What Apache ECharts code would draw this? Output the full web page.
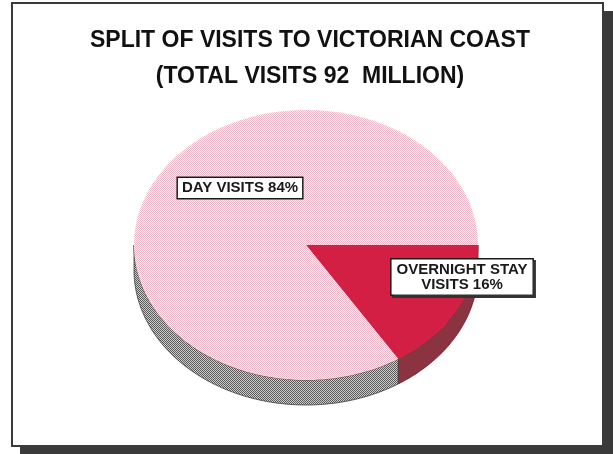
<!DOCTYPE html>
<html>
<head>
<meta charset="utf-8">
<script src="https://cdn.jsdelivr.net/npm/echarts@6/dist/echarts.min.js"></script>
<style>
  html, body { margin: 0; padding: 0; background: #fff; }
  #chart { width: 613px; height: 454px; }
</style>
</head>
<body>
<div id="chart"></div>
<script>
// Chart text and values
const titleLines = ['SPLIT OF VISITS TO VICTORIAN COAST', '(TOTAL VISITS 92  MILLION)'];
const sliceNames = ['OVERNIGHT STAY VISITS', 'DAY VISITS'];
const sliceLabelLines = [['OVERNIGHT STAY', 'VISITS'], ['DAY VISITS']];
const sliceValues = [16, 84];

// Layout of the tilted pie (centre, radii, rim depth) and label anchors
const PIE = { cx: 306, cy: 245, rx: 172, ry: 135, depth: 25 };
const labelAnchors = [[462, 277], [240, 188]];
const FONT = "'Liberation Sans', Arial, Helvetica, sans-serif";

// Small 2x2 dither tiles
function checker(c1, c2) {
  const cv = document.createElement('canvas');
  cv.width = 2; cv.height = 2;
  const g = cv.getContext('2d');
  g.fillStyle = c1; g.fillRect(0, 0, 2, 2);
  g.fillStyle = c2; g.fillRect(0, 0, 1, 1); g.fillRect(1, 1, 1, 1);
  return { image: cv, repeat: 'repeat' };
}
const faceFill = ['#d21f43', checker('#fcf1f4', '#ecb6c6')];
const sideFill = ['#8c3342', checker('#cccccc', '#5a5a5a')];
const sideEdge = ['#5a1e28', '#3c3c3c'];

const total = sliceValues.reduce((a, b) => a + b, 0);
let acc = 0;
const sliceData = sliceValues.map((v, i) => {
  const start = acc; acc += v;
  return { name: sliceNames[i], value: [start, acc, v] };
});

function pt(theta, dy) {
  return [PIE.cx + PIE.rx * Math.cos(theta), PIE.cy + PIE.ry * Math.sin(theta) + dy];
}
function arcPoints(a0, a1, dy) {
  const n = Math.max(2, Math.ceil(Math.abs(a1 - a0) / (Math.PI / 180)));
  const pts = [];
  for (let k = 0; k <= n; k++) pts.push(pt(a0 + (a1 - a0) * k / n, dy));
  return pts;
}

function renderSlice(params, api) {
  const i = params.dataIndex;
  const a0 = api.value(0) / total * 2 * Math.PI;
  const a1 = api.value(1) / total * 2 * Math.PI;
  const children = [];

  // rim on the visible front half
  const s0 = Math.max(a0, 0), s1 = Math.min(a1, Math.PI);
  if (s1 > s0) {
    const pts = arcPoints(s0, s1, 0).concat(arcPoints(s1, s0, PIE.depth));
    children.push({
      type: 'polygon', z2: 1,
      shape: { points: pts },
      style: { fill: sideFill[i], stroke: sideEdge[i], lineWidth: 0.8 }
    });
  }

  // top face
  children.push({
    type: 'polygon', z2: 2,
    shape: { points: [[PIE.cx, PIE.cy]].concat(arcPoints(a0, a1, 0)) },
    style: { fill: faceFill[i] }
  });

  // boxed label
  const lines = sliceLabelLines[i].slice();
  lines[lines.length - 1] += ' ' + api.value(2) + '%';
  const multi = lines.length > 1;
  children.push({
    type: 'text', z2: 10,
    x: labelAnchors[i][0], y: labelAnchors[i][1],
    style: {
      text: lines.join('\n'),
      font: 'bold 15px ' + FONT,
      fill: '#1a1a1a',
      align: 'center', verticalAlign: 'middle',
      lineHeight: 15,
      backgroundColor: '#ffffff',
      borderColor: '#1a1a1a', borderWidth: 1.5,
      padding: multi ? [3, 5, 2, 5] : [3, 4, 2, 4],
      shadowColor: multi ? '#333333' : 'rgba(0,0,0,0)',
      shadowOffsetX: multi ? 2 : 0, shadowOffsetY: multi ? 2 : 0, shadowBlur: 0
    }
  });

  return { type: 'group', children };
}

const chart = echarts.init(document.getElementById('chart'), null, { renderer: 'canvas' });
chart.setOption({
  backgroundColor: '#ffffff',
  animation: false,
  graphic: [
    // drop shadow of the frame
    { type: 'rect', z: -10, shape: { x: 20, y: 11, width: 593, height: 443 }, style: { fill: '#3a3a3a' } },
    // frame
    { type: 'rect', z: -9, shape: { x: 12, y: 3, width: 591, height: 443 },
      style: { fill: '#ffffff', stroke: '#3a3a3a', lineWidth: 2 } },
    { type: 'text', z: 5, style: { x: 310, y: 41, text: titleLines[0], font: 'bold 23px ' + FONT,
      fill: '#111111', align: 'center', verticalAlign: 'middle' } },
    { type: 'text', z: 5, style: { x: 310, y: 77, text: titleLines[1], font: 'bold 23px ' + FONT,
      fill: '#111111', align: 'center', verticalAlign: 'middle' } }
  ],
  series: [{
    type: 'custom',
    coordinateSystem: 'none',
    renderItem: renderSlice,
    data: sliceData,
    silent: true
  }]
});
</script>
</body>
</html>
